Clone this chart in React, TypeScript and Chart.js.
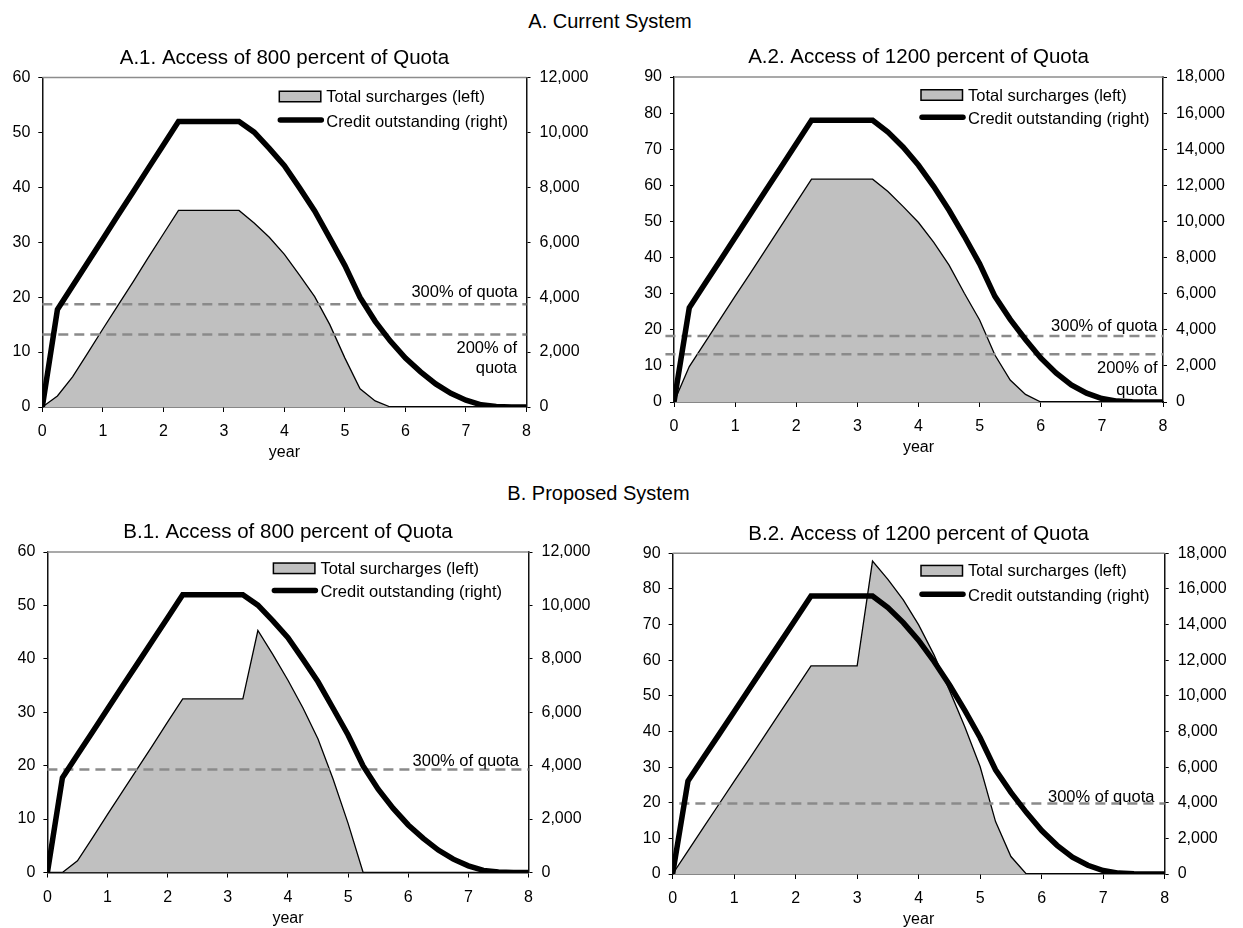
import React, { useEffect, useRef } from 'react';
import { Chart, registerables } from 'chart.js';

Chart.register(...registerables);

const FONT = '"Liberation Sans", Arial, Helvetica, sans-serif';

// ---------------- data ----------------
const years = [0, 0.25, 0.5, 0.75, 1, 1.25, 1.5, 1.75, 2, 2.25, 2.5, 2.75, 3, 3.25, 3.5, 3.75, 4, 4.25, 4.5, 4.75, 5, 5.25, 5.5, 5.75, 6, 6.25, 6.5, 6.75, 7, 7.25, 7.5, 7.75, 8];

const surchargesA1 = [0, 2.0, 5.5, 9.8, 14.2, 18.5, 22.8, 27.2, 31.5, 35.8, 35.8, 35.8, 35.8, 35.8, 33.5, 30.9, 27.8, 24.0, 20.1, 15.0, 8.9, 3.3, 1.1, 0, 0, 0, 0, 0, 0, 0, 0, 0, 0];
const creditA1 = [0, 3550, 4410, 5260, 6120, 6980, 7830, 8690, 9540, 10400, 10400, 10400, 10400, 10400, 10010, 9420, 8790, 7980, 7140, 6150, 5150, 3990, 3120, 2400, 1780, 1280, 840, 500, 250, 80, 20, 0, 0];

const surchargesA2 = [0, 9.8, 16.3, 22.8, 29.3, 35.7, 42.2, 48.7, 55.2, 61.7, 61.7, 61.7, 61.7, 61.7, 58.3, 54.1, 49.7, 44.2, 37.9, 30.1, 22.7, 13.0, 6.1, 2.1, 0, 0, 0, 0, 0, 0, 0, 0, 0];
const creditA2 = [0, 5220, 6520, 7810, 9110, 10410, 11710, 13000, 14300, 15600, 15600, 15600, 15600, 15600, 14950, 14110, 13110, 11930, 10620, 9180, 7650, 5850, 4580, 3460, 2440, 1610, 950, 490, 195, 50, 10, 0, 0];

const surchargesB1 = [0, 0, 2.2, 6.5, 10.9, 15.2, 19.5, 23.8, 28.2, 32.5, 32.5, 32.5, 32.5, 32.5, 45.3, 40.8, 36.0, 30.8, 25.0, 17.5, 9.2, 0, 0, 0, 0, 0, 0, 0, 0, 0, 0, 0, 0];
const creditB1 = [0, 3550, 4410, 5260, 6120, 6980, 7830, 8690, 9540, 10400, 10400, 10400, 10400, 10400, 10010, 9420, 8790, 7980, 7140, 6150, 5150, 3990, 3120, 2400, 1780, 1280, 840, 500, 250, 80, 20, 0, 0];

const surchargesB2 = [0, 6.5, 13.0, 19.5, 26.0, 32.4, 38.9, 45.4, 51.9, 58.4, 58.4, 58.4, 58.4, 87.8, 82.7, 76.9, 69.9, 61.5, 51.6, 41.3, 30.1, 14.7, 4.9, 0, 0, 0, 0, 0, 0, 0, 0, 0, 0];
const creditB2 = [0, 5220, 6520, 7810, 9110, 10410, 11710, 13000, 14300, 15600, 15600, 15600, 15600, 15600, 14950, 14110, 13110, 11930, 10620, 9180, 7650, 5850, 4580, 3460, 2440, 1610, 950, 490, 195, 50, 10, 0, 0];

// quota reference levels (left-axis units)
const quotaLinesA1 = [18.7, 13.2];
const quotaLinesA2 = [18.3, 13.2];
const quotaLinesB1 = [19.3];
const quotaLinesB2 = [19.8];

const sectionTitles = ['A. Current System', 'B. Proposed System'];
const panelTitles = [
  'A.1. Access of 800 percent of Quota',
  'A.2. Access of 1200 percent of Quota',
  'B.1. Access of 800 percent of Quota',
  'B.2. Access of 1200 percent of Quota',
];
const legendLabels = ['Total surcharges (left)', 'Credit outstanding (right)'];
const xTitle = 'year';

// ---------------- layout ----------------
const TITLE_SIZE = 20.5;
const TITLE_PAD_BOTTOM = 7;
const TITLE_H = TITLE_SIZE * 1.2 + TITLE_PAD_BOTTOM;
const X_AXIS_H = 55;

const panels = [
  {
    title: panelTitles[0], surcharges: surchargesA1, credit: creditA1,
    leftMax: 60, leftStep: 10, rightMax: 12000, rightStep: 2000,
    refLines: quotaLinesA1, refStart: 0,
    notes: [
      { text: '300% of quota', dx: 8.7, v: 20.85 },
      { text: '200% of', dx: 9.5, v: 10.67 },
      { text: 'quota', dx: 9.5, v: 7.04 },
    ],
    area: { left: 42.3, right: 526.5, top: 77.5, bottom: 407 },
    canvasLeft: 0, canvasWidth: 620,
    legend: { x: 237, y1: 19, y2: 42.5 },
  },
  {
    title: panelTitles[1], surcharges: surchargesA2, credit: creditA2,
    leftMax: 90, leftStep: 10, rightMax: 18000, rightStep: 2000,
    refLines: quotaLinesA2, refStart: -0.14,
    notes: [
      { text: '300% of quota', dx: 5.5, v: 21.05 },
      { text: '200% of', dx: 5.5, v: 9.33 },
      { text: 'quota', dx: 5.5, v: 3.32 },
    ],
    area: { left: 674, right: 1163, top: 77, bottom: 402 },
    canvasLeft: 620, canvasWidth: 623,
    legend: { x: 247, y1: 18, y2: 40.3 },
  },
  {
    title: panelTitles[2], surcharges: surchargesB1, credit: creditB1,
    leftMax: 60, leftStep: 10, rightMax: 12000, rightStep: 2000,
    refLines: quotaLinesB1, refStart: 0,
    notes: [{ text: '300% of quota', dx: 9.5, v: 20.74 }],
    area: { left: 47.4, right: 528.5, top: 552, bottom: 872.5 },
    canvasLeft: 0, canvasWidth: 620,
    legend: { x: 226, y1: 16.3, y2: 38.5 },
  },
  {
    title: panelTitles[3], surcharges: surchargesB2, credit: creditB2,
    leftMax: 90, leftStep: 10, rightMax: 18000, rightStep: 2000,
    refLines: quotaLinesB2, refStart: 0.11,
    notes: [{ text: '300% of quota', dx: 10.3, v: 21.5 }],
    area: { left: 672.6, right: 1164.7, top: 553.3, bottom: 874 },
    canvasLeft: 620, canvasWidth: 623,
    legend: { x: 248.4, y1: 17.4, y2: 41 },
  },
];

const panelDecor = {
  id: 'panelDecor',
  beforeDatasetsDraw(chart: any) {
    const { ctx, chartArea: a } = chart;
    ctx.save();
    ctx.strokeStyle = '#8c8c8c';
    ctx.lineWidth = 1.5;
    ctx.beginPath();
    ctx.moveTo(a.left, a.top);
    ctx.lineTo(a.right, a.top);
    ctx.stroke();
    ctx.restore();
  },
  afterDatasetsDraw(chart: any, _args: any, opts: any) {
    const { ctx, chartArea: a } = chart;
    const yScale = chart.scales.y;
    ctx.save();
    // notes
    ctx.fillStyle = '#000';
    ctx.font = `16.5px ${FONT}`;
    ctx.textAlign = 'right';
    ctx.textBaseline = 'middle';
    (opts.notes || []).forEach((n: any) => {
      ctx.fillText(n.text, a.right - n.dx, yScale.getPixelForValue(n.v));
    });
    // legend
    const lg = opts.legend;
    const bx = a.left + lg.x;
    const by = a.top + lg.y1;
    ctx.fillStyle = '#c0c0c0';
    ctx.fillRect(bx, by - 5.25, 41.5, 10.5);
    ctx.strokeStyle = '#000';
    ctx.lineWidth = 1.5;
    ctx.strokeRect(bx, by - 5.25, 41.5, 10.5);
    const ly = a.top + lg.y2;
    ctx.lineWidth = 5.5;
    ctx.lineCap = 'round';
    ctx.beginPath();
    ctx.moveTo(bx + 1, ly);
    ctx.lineTo(bx + 42, ly);
    ctx.stroke();
    ctx.fillStyle = '#000';
    ctx.textAlign = 'left';
    ctx.textBaseline = 'middle';
    ctx.fillText(opts.labels[0], bx + 47, by + 1);
    ctx.fillText(opts.labels[1], bx + 47, ly + 2);
    ctx.restore();
  },
};

function Panel({ p }: { p: any }) {
  const ref = useRef<HTMLCanvasElement | null>(null);
  const canvasTop = Math.floor(p.area.top - 50);
  const canvasH = Math.ceil(p.area.bottom + X_AXIS_H - canvasTop);
  const padTop = p.area.top - canvasTop - TITLE_H;
  const xAxisH = canvasTop + canvasH - p.area.bottom;
  const yLeftW = p.area.left - p.canvasLeft;
  const yRightW = p.canvasLeft + p.canvasWidth - p.area.right;

  useEffect(() => {
    if (!ref.current) return;
    const tickFont = { family: FONT, size: 16 };
    const axisGrid = (len: number) => ({
      display: true, drawOnChartArea: false, drawTicks: true, tickLength: len, color: '#000', lineWidth: 1,
    });
    const border = { display: true, color: '#111', width: 1.5 };
    const datasets: any[] = [
      {
        label: legendLabels[1],
        data: years.map((x, i) => ({ x, y: p.credit[i] })),
        yAxisID: 'y1',
        borderColor: '#000',
        borderWidth: 5.5,
        pointRadius: 0,
        fill: false,
        tension: 0,
      },
      ...p.refLines.map((v: number) => ({
        label: 'ref',
        data: [{ x: p.refStart, y: v }, { x: 8, y: v }],
        yAxisID: 'y',
        borderColor: '#8a8a8a',
        borderWidth: 2.5,
        borderDash: [10, 6],
        pointRadius: 0,
        fill: false,
        clip: { left: 14, top: 0, right: 2, bottom: 0 },
      })),
      {
        label: legendLabels[0],
        data: years.map((x, i) => ({ x, y: p.surcharges[i] })),
        yAxisID: 'y',
        borderColor: '#000',
        borderWidth: 1.3,
        backgroundColor: '#c0c0c0',
        pointRadius: 0,
        fill: 'origin',
        tension: 0,
      },
    ];
    const chart = new Chart(ref.current, {
      type: 'line',
      data: { datasets },
      plugins: [panelDecor],
      options: {
        animation: false,
        responsive: false,
        events: [],
        layout: { padding: { top: padTop, left: 0, right: 0, bottom: 0 } },
        plugins: {
          legend: { display: false },
          tooltip: { enabled: false },
          title: {
            display: true,
            text: p.title,
            fullSize: false,
            color: '#000',
            font: { family: FONT, size: TITLE_SIZE, weight: 'normal', lineHeight: 1.2 },
            padding: { top: 0, bottom: TITLE_PAD_BOTTOM },
          },
          panelDecor: { notes: p.notes, legend: p.legend, labels: legendLabels },
        } as any,
        scales: {
          x: {
            type: 'linear',
            min: 0,
            max: 8,
            position: 'bottom',
            afterFit: (s: any) => { s.height = xAxisH; },
            ticks: { stepSize: 1, color: '#000', font: tickFont, padding: 10, maxRotation: 0, autoSkip: false },
            grid: axisGrid(5),
            border,
            title: { display: true, text: xTitle, color: '#000', font: { family: FONT, size: 16 }, padding: { top: 0, bottom: 0 } },
          },
          y: {
            type: 'linear',
            position: 'left',
            min: 0,
            max: p.leftMax,
            afterFit: (s: any) => { s.width = yLeftW; },
            ticks: { stepSize: p.leftStep, color: '#000', font: tickFont, padding: 8 },
            grid: axisGrid(4),
            border,
          },
          y1: {
            type: 'linear',
            position: 'right',
            min: 0,
            max: p.rightMax,
            afterFit: (s: any) => { s.width = yRightW; },
            ticks: {
              stepSize: p.rightStep, color: '#000', font: tickFont, padding: 9,
              callback: (v: any) => Number(v).toLocaleString('en-US'),
            },
            grid: axisGrid(4),
            border,
          },
        },
      } as any,
    });
    return () => chart.destroy();
  }, []);

  return (
    <canvas
      ref={ref}
      width={p.canvasWidth}
      height={canvasH}
      style={{ position: 'absolute', left: p.canvasLeft, top: canvasTop, width: p.canvasWidth, height: canvasH, display: 'block' }}
    />
  );
}

export default function App() {
  const secStyle: React.CSSProperties = {
    position: 'absolute', width: 240, textAlign: 'center', fontFamily: FONT,
    fontSize: 20, lineHeight: '24px', color: '#000', whiteSpace: 'nowrap',
  };
  return (
    <div style={{ position: 'absolute', left: 0, top: 0, width: 1243, height: 928, background: '#fff', overflow: 'hidden' }}>
      <div style={{ ...secStyle, left: 610 - 120, top: 8.7 }}>{sectionTitles[0]}</div>
      <div style={{ ...secStyle, left: 598.5 - 120, top: 481 }}>{sectionTitles[1]}</div>
      {panels.map((p, i) => <Panel key={i} p={p} />)}
    </div>
  );
}
